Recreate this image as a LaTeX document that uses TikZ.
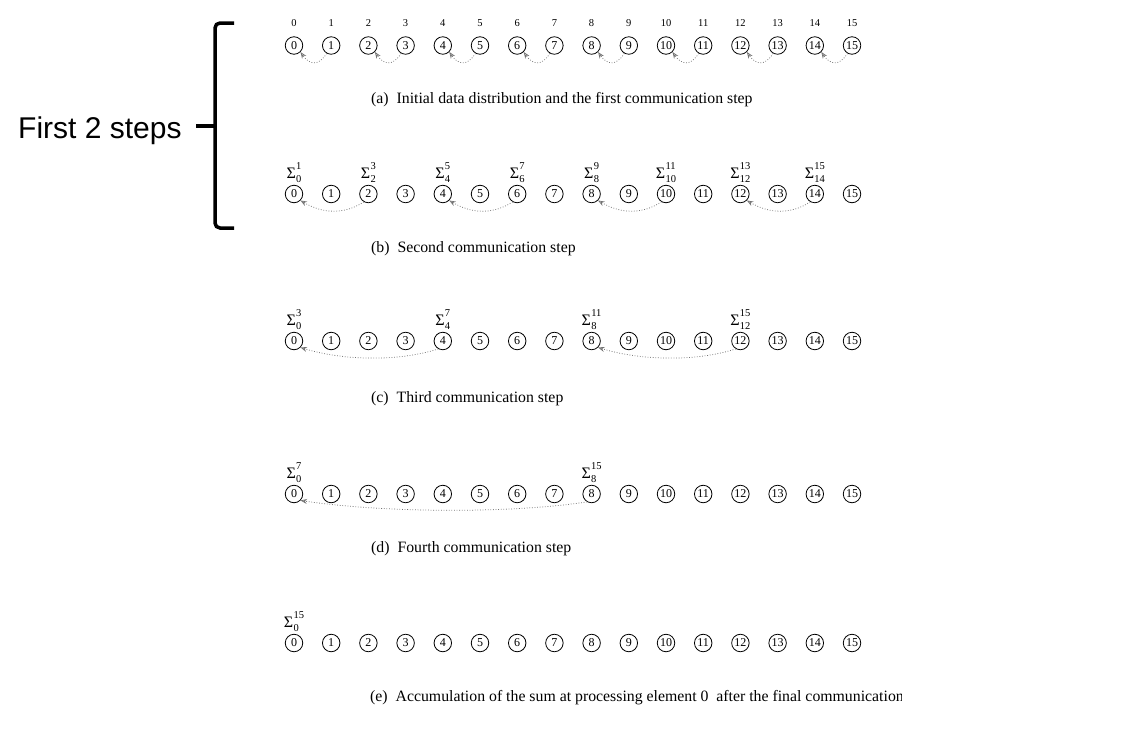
\documentclass[tikz,border=0pt]{standalone}
\usepackage{fontspec}
\setmainfont{Liberation Serif}
\newfontfamily\arialfont{Liberation Sans}
\usetikzlibrary{arrows.meta}
\tikzset{
  pe/.style={circle,draw,line width=0.8pt,inner sep=0pt,minimum size=17.5pt,font=\fontsize{12}{12}\selectfont},
  idx/.style={inner sep=0pt,font=\fontsize{10.5}{10.5}\selectfont},
  sig/.style={inner sep=0pt,anchor=south,font=\fontsize{16}{16}\selectfont},
  capt/.style={anchor=west,inner sep=0pt,font=\fontsize{15.8}{15.8}\selectfont},
  comm/.style={draw=black!55,line width=0.75pt,dash pattern=on 0.8pt off 1.8pt,-{Stealth[open,length=6.5pt,width=5pt]}},
  brace/.style={line width=3.5pt,line cap=butt}
}
\newcommand{\scr}{\fontsize{10.5}{13.5}\selectfont}
\newcommand{\psum}[2]{Σ\kern0.3pt\raisebox{-4pt}{\renewcommand{\arraystretch}{1}\setlength{\tabcolsep}{0pt}\scr\begin{tabular}[b]{@{}l@{}}#2\\#1\end{tabular}}}
\begin{document}
\begin{tikzpicture}[x=1pt,y=-1pt]
\useasboundingbox (0,0) rectangle (1122,734);
% rows of processing elements
\foreach \r/\y in {a/45.5,b/194,c/341,d/494,e/643}{
  \foreach \i in {0,...,15}{
    \node[pe] (\r\i) at ({294+37.2*\i},\y) {\i};
  }
}
% top indices
\foreach \i in {0,...,15}{
  \node[idx] (t\i) at ({294+37.2*\i},23) {\i};
}
% communication arrows
\foreach \s/\d in {1/0,3/2,5/4,7/6,9/8,11/10,13/12,15/14}{
  \draw[comm] (a\s.240) .. controls +(-8,13) and +(9,13) .. (a\d.-45);
}
\foreach \s/\d in {2/0,6/4,10/8,14/12}{
  \draw[comm] (b\s.240) .. controls +(-20,13) and +(22,13) .. (b\d.-45);
}
\foreach \s/\d in {4/0,12/8}{
  \draw[comm] (c\s.240) .. controls +(-40,13) and +(42,13) .. (c\d.-45);
}
\draw[comm] (d8.240) .. controls +(-80,12) and +(80,12) .. (d0.-45);
% partial sums
\foreach \i/\j in {0/1,2/3,4/5,6/7,8/9,10/11,12/13,14/15}{
  \node[sig] (sb\i) at ([yshift=-2pt]b\i.north) {\psum{\i}{\j}};
}
\foreach \i/\j in {0/3,4/7,8/11,12/15}{
  \node[sig] (sc\i) at ([yshift=-2pt]c\i.north) {\psum{\i}{\j}};
}
\foreach \i/\j in {0/7,8/15}{
  \node[sig] (sd\i) at ([yshift=-2pt]d\i.north) {\psum{\i}{\j}};
}
\node[sig] (se0) at ([yshift=-2pt]e0.north) {\psum{0}{15}};
% captions
\node[capt] (capa) at (371,100) {(a)\ \ Initial data distribution and the first communication step};
\node[capt] (capb) at (371,249) {(b)\ \ Second communication step};
\node[capt] (capc) at (371,399) {(c)\ \ Third communication step};
\node[capt] (capd) at (371,549) {(d)\ \ Fourth communication step};
\begin{scope}
\clip (340,680) rectangle (901,715);
\node[capt] (cape) at (370,698) {(e)\ \ Accumulation of the sum at processing element 0\ \ after the final communication};
\end{scope}
% bracket and label
\draw[brace,rounded corners=5pt] (234,23) -- (215,23) -- (215,228) -- (234,228);
\draw[brace] (196,126) -- (215,126);
\node[anchor=west,inner sep=0pt,font=\arialfont\fontsize{30}{30}\selectfont] (lbl) at (18,131) {First 2 steps};
\end{tikzpicture}
\end{document}
